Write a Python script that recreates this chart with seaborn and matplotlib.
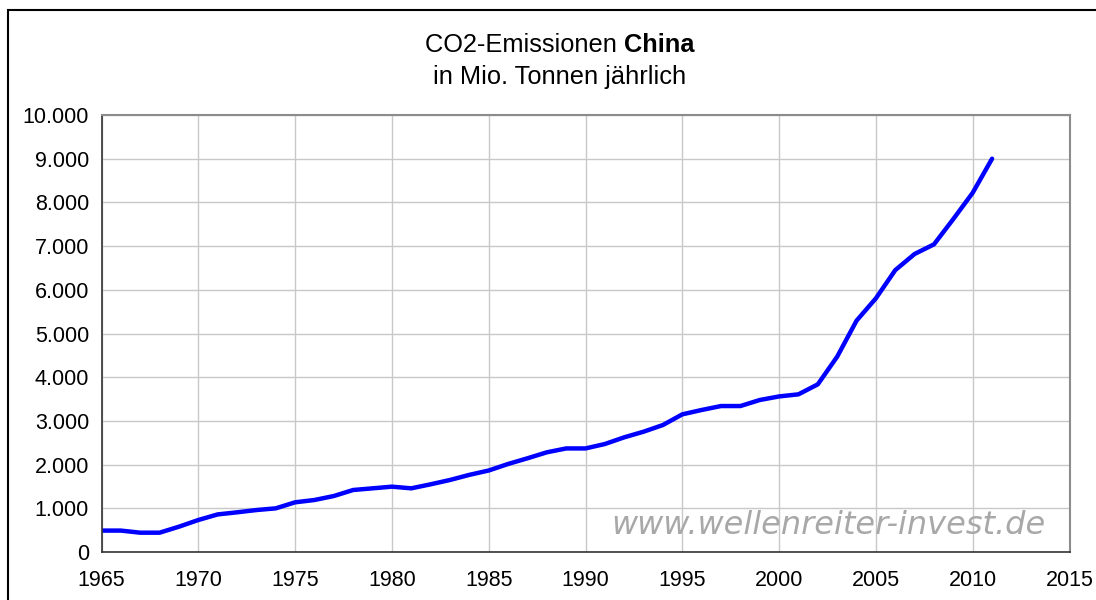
import matplotlib
matplotlib.use('Agg')
import matplotlib.pyplot as plt
import matplotlib.ticker as mticker
from matplotlib.patches import Rectangle
import seaborn as sns
import pandas as pd

# Jahre und CO2-Emissionen China (Mio. Tonnen)
years = list(range(1965, 2012))
emissions = [490, 490, 442, 442, 579, 732, 860, 908, 960, 999,
             1137, 1190, 1281, 1419, 1457, 1495, 1457, 1549, 1648, 1765,
             1865, 2014, 2144, 2281, 2370, 2370, 2471, 2624, 2753, 2906,
             3150, 3250, 3340, 3340, 3478, 3560, 3608, 3837, 4470, 5293,
             5805, 6450, 6820, 7040, 7620, 8220, 9000]

xticks = list(range(1965, 2016, 5))
yticks = list(range(0, 10001, 1000))

df = pd.DataFrame({'Jahr': years, 'CO2': emissions})

sns.set_style('white')
plt.rcParams['font.family'] = ['Liberation Sans', 'DejaVu Sans']
plt.rcParams['text.color'] = 'black'

fig = plt.figure(figsize=(10.96, 6), dpi=100)
ax = fig.add_axes([101.5/1096, 1-552/600, (1069.5-101.5)/1096, (552-115)/600])

sns.lineplot(data=df, x='Jahr', y='CO2', ax=ax, color='#0000FF', linewidth=3.2)

ax.set_xlim(1965, 2015)
ax.set_ylim(0, 10000)
ax.set_xticks(xticks)
ax.set_yticks(yticks)
ax.yaxis.set_major_formatter(mticker.FuncFormatter(lambda v, p: f'{int(v):,}'.replace(',', '.')))
ax.tick_params(axis='both', labelsize=15.5, direction='out', length=5, width=1,
               color='#333333', labelcolor='black', pad=4)
ax.tick_params(axis='x', pad=8)
ax.grid(True, color='#c8c8c8', linewidth=1)
ax.set_axisbelow(True)
ax.set_xlabel('')
ax.set_ylabel('')

for s in ['left', 'bottom']:
    ax.spines[s].set_color('#333333')
    ax.spines[s].set_linewidth(1.2)
for s in ['top', 'right']:
    ax.spines[s].set_color('#8c8c8c')
    ax.spines[s].set_linewidth(1.5)

# Titel: erste Zeile mit fettem "China"
renderer = fig.canvas.get_renderer()
t1 = fig.text(0, 1-45/600, 'CO2-Emissionen ', ha='left', va='center', fontsize=18.3)
t2 = fig.text(0, 1-45/600, 'China', ha='left', va='center', fontsize=18.3, fontweight='bold')
w1 = t1.get_window_extent(renderer).width
w2 = t2.get_window_extent(renderer).width
x0 = 560 - (w1 + w2) / 2
t1.set_x(x0 / 1096)
t2.set_x((x0 + w1) / 1096)
fig.text(560/1096, 1-77/600, 'in Mio. Tonnen jährlich', ha='center', va='center', fontsize=18.3)

# Wasserzeichen
ax.text(1046/1096, 1-525/600, 'www.wellenreiter-invest.de', transform=fig.transFigure,
        ha='right', va='center', fontsize=23, style='italic', color='#a8a8a8',
        family=['DejaVu Sans'])

# Rahmen um die Grafik
fig.patches.append(Rectangle((8/1096, -0.05), 1.1, 1-10/600+0.05, transform=fig.transFigure,
                             fill=False, edgecolor='black', linewidth=1.5))

fig.savefig('out.png', dpi=100)
